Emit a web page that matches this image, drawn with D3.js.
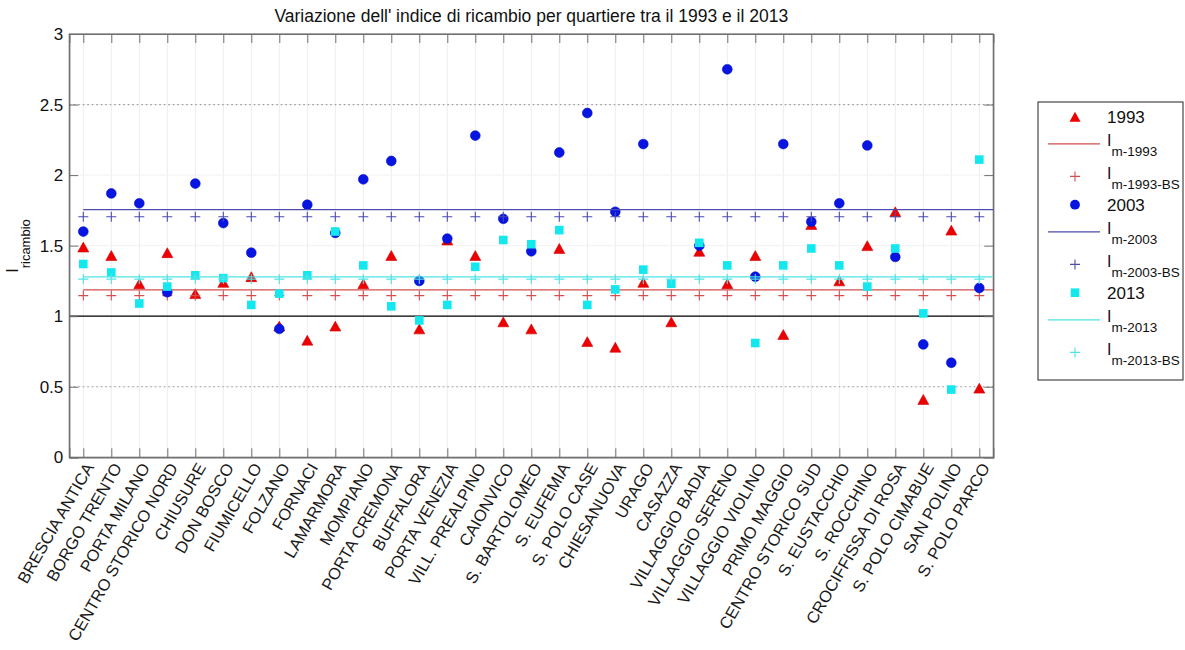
<!DOCTYPE html>
<html>
<head>
<meta charset="utf-8">
<script src="https://cdn.jsdelivr.net/npm/d3@7"></script>
<style>
  html, body { margin: 0; padding: 0; background: #fff; }
  svg { display: block; font-family: Arial, "Liberation Sans", sans-serif; }
</style>
</head>
<body>
<svg id="chart" width="1185" height="650"></svg>
<script>
// Quartieri di Brescia
const categories = [
  "BRESCIA ANTICA", "BORGO TRENTO", "PORTA MILANO", "CENTRO STORICO NORD", "CHIUSURE",
  "DON BOSCO", "FIUMICELLO", "FOLZANO", "FORNACI", "LAMARMORA", "MOMPIANO",
  "PORTA CREMONA", "BUFFALORA", "PORTA VENEZIA", "VILL. PREALPINO", "CAIONVICO",
  "S. BARTOLOMEO", "S. EUFEMIA", "S. POLO CASE", "CHIESANUOVA", "URAGO", "CASAZZA",
  "VILLAGGIO BADIA", "VILLAGGIO SERENO", "VILLAGGIO VIOLINO", "PRIMO MAGGIO",
  "CENTRO STORICO SUD", "S. EUSTACCHIO", "S. ROCCHINO", "CROCIFFISSA DI ROSA",
  "S. POLO CIMABUE", "SAN POLINO", "S. POLO PARCO"
];

// Indice di ricambio per anno (null = dato mancante)
const values1993 = [1.49, 1.43, 1.23, 1.45, 1.16, 1.24, 1.28, 0.93, 0.83, 0.93, 1.23,
  1.43, 0.91, 1.54, 1.43, 0.96, 0.91, 1.48, 0.82, 0.78, 1.24, 0.96,
  1.46, 1.23, 1.43, 0.87, 1.65, 1.25, 1.50, 1.74, 0.41, 1.61, 0.49];
const values2003 = [1.60, 1.87, 1.80, 1.17, 1.94, 1.66, 1.45, 0.91, 1.79, 1.59, 1.97,
  2.10, 1.25, 1.55, 2.28, 1.69, 1.46, 2.16, 2.44, 1.74, 2.22, null,
  1.50, 2.75, 1.28, 2.22, 1.67, 1.80, 2.21, 1.42, 0.80, 0.67, 1.20];
const values2013 = [1.37, 1.31, 1.09, 1.21, 1.29, 1.27, 1.08, 1.16, 1.29, 1.60, 1.36,
  1.07, 0.97, 1.08, 1.35, 1.54, 1.51, 1.61, 1.08, 1.19, 1.33, 1.23,
  1.52, 1.36, 0.81, 1.36, 1.48, 1.36, 1.21, 1.48, 1.02, 0.48, 2.11];

// Medie dell'indice (I_m) e medie bootstrap (I_m-BS)
const meanValues = [1.186, 1.755, 1.278];
const bsValues = [1.146, 1.705, 1.263];
const years = ["1993", "2003", "2013"];

const yTicks = [0, 0.5, 1, 1.5, 2, 2.5, 3];
const refLines = [0.5, 2.5];
const titleText = "Variazione dell' indice di ricambio per quartiere tra il 1993 e il 2013";

// ---- layout ----
const plot = { left: 69.3, right: 993.3, top: 34, bottom: 457.3 };
const svg = d3.select("#chart");

const x = d3.scaleLinear().domain([0.5, categories.length + 0.5]).range([plot.left, plot.right]);
const y = d3.scaleLinear().domain([0, 3]).range([plot.bottom, plot.top]);
const idx = d3.range(1, categories.length + 1);

const colors = {
  marker: ["#ee0000", "#0814e0", "#14e8ef"],
  mean:   ["#d24f4f", "#4b4bb0", "#4fe3e3"]
};

// faint grid
const grid = svg.append("g");
grid.selectAll("line.vx").data(idx).join("line")
  .attr("x1", d => x(d)).attr("x2", d => x(d))
  .attr("y1", plot.top).attr("y2", plot.bottom)
  .attr("stroke", "#ededed").attr("stroke-width", 1);
grid.selectAll("line.hy").data(yTicks.slice(1, -1)).join("line")
  .attr("x1", plot.left).attr("x2", plot.right)
  .attr("y1", d => y(d)).attr("y2", d => y(d))
  .attr("stroke", "#f3f3f3").attr("stroke-width", 1);

// dotted reference lines
svg.append("g").selectAll("line").data(refLines).join("line")
  .attr("x1", plot.left).attr("x2", plot.right)
  .attr("y1", d => y(d)).attr("y2", d => y(d))
  .attr("stroke", "#9a9a9a").attr("stroke-width", 1.2)
  .attr("stroke-dasharray", "1.5,3");

// unit line
svg.append("line")
  .attr("x1", plot.left).attr("x2", plot.right)
  .attr("y1", y(1)).attr("y2", y(1))
  .attr("stroke", "#000").attr("stroke-width", 1.2);

// axes (box with inward ticks)
const tickLen = 9;
const axisColor = "#6e6e6e";
const xAxisB = d3.axisBottom(x).tickValues(idx).tickSize(-tickLen).tickFormat("");
const xAxisT = d3.axisTop(x).tickValues(idx).tickSize(-tickLen).tickFormat("");
const yAxisL = d3.axisLeft(y).tickValues(yTicks).tickSize(-tickLen).tickFormat(d3.format("~g")).tickPadding(6);
const yAxisR = d3.axisRight(y).tickValues(yTicks.slice(1, -1)).tickSize(-tickLen).tickFormat("");

function styleAxis(g) {
  g.select(".domain").attr("stroke", axisColor).attr("stroke-width", 1.2);
  g.selectAll(".tick line").attr("stroke", axisColor);
}
svg.append("g").attr("transform", `translate(0,${plot.bottom})`).call(xAxisB).call(styleAxis);
svg.append("g").attr("transform", `translate(0,${plot.top})`).call(xAxisT).call(styleAxis);
const gy = svg.append("g").attr("transform", `translate(${plot.left},0)`).call(yAxisL).call(styleAxis);
gy.selectAll(".tick text").attr("font-size", 17).attr("fill", "#111")
  .attr("font-family", "Arial, 'Liberation Sans', sans-serif");
svg.append("g").attr("transform", `translate(${plot.right},0)`).call(yAxisR).call(styleAxis);
// axes box
svg.append("rect")
  .attr("x", plot.left).attr("y", plot.top)
  .attr("width", plot.right - plot.left).attr("height", plot.bottom - plot.top)
  .attr("fill", "none").attr("stroke", axisColor).attr("stroke-width", 1.2);

// rotated category labels
svg.append("g").selectAll("text").data(categories).join("text")
  .attr("transform", (d, i) => `translate(${x(i + 1) + 6},${plot.bottom + 7}) rotate(-60)`)
  .attr("text-anchor", "end")
  .attr("dominant-baseline", "central")
  .attr("font-size", 16.5).attr("fill", "#1a1a1a")
  .text(d => d);

// title
svg.append("text")
  .attr("x", (plot.left + plot.right) / 2).attr("y", 22)
  .attr("text-anchor", "middle").attr("font-size", 17.5).attr("fill", "#111")
  .text(titleText);

// y label: I_ricambio
const yl = svg.append("text")
  .attr("transform", `translate(18,246) rotate(-90)`)
  .attr("text-anchor", "middle").attr("fill", "#111");
yl.append("tspan").attr("font-size", 16).text("I");
yl.append("tspan").attr("font-size", 13).attr("dy", 12).text("ricambio");

// marker shapes
function trianglePath(s) { const h = s * 0.9; return `M0,${-h / 2}L${s / 2},${h / 2}L${-s / 2},${h / 2}Z`; }
function plusPath(s) { return `M${-s / 2},0H${s / 2}M0,${-s / 2}V${s / 2}`; }

function drawSeries(g, vals, k) {
  const pts = vals.map((v, i) => ({ i: i + 1, v })).filter(d => d.v != null);
  if (k === 0) {
    g.selectAll("path.m").data(pts).join("path")
      .attr("d", trianglePath(11))
      .attr("transform", d => `translate(${x(d.i)},${y(d.v)})`)
      .attr("fill", colors.marker[k]).attr("stroke", "#d00000").attr("stroke-width", 0.6);
  } else if (k === 1) {
    g.selectAll("circle").data(pts).join("circle")
      .attr("cx", d => x(d.i)).attr("cy", d => y(d.v)).attr("r", 4.9)
      .attr("fill", colors.marker[k]).attr("stroke", "#0010cc").attr("stroke-width", 0.6);
  } else {
    g.selectAll("rect").data(pts).join("rect")
      .attr("x", d => x(d.i) - 4.3).attr("y", d => y(d.v) - 4.3)
      .attr("width", 8.6).attr("height", 8.6)
      .attr("fill", colors.marker[k]);
  }
}

years.forEach((yr, k) => {
  const g = svg.append("g");
  drawSeries(g, [values1993, values2003, values2013][k], k);
  // mean line
  g.append("line")
    .attr("x1", x(1)).attr("x2", plot.right)
    .attr("y1", y(meanValues[k])).attr("y2", y(meanValues[k]))
    .attr("stroke", colors.mean[k]).attr("stroke-width", 1.3);
  // bootstrap mean markers
  g.selectAll("path.p").data(idx).join("path")
    .attr("d", plusPath(10))
    .attr("transform", d => `translate(${x(d)},${y(bsValues[k])})`)
    .attr("stroke", colors.mean[k]).attr("stroke-width", 1.1).attr("fill", "none");
});

// legend
const leg = { x0: 1038, x1: 1183, y0: 102, y1: 380 };
svg.append("rect")
  .attr("x", leg.x0).attr("y", leg.y0)
  .attr("width", leg.x1 - leg.x0).attr("height", leg.y1 - leg.y0)
  .attr("fill", "#fff").attr("stroke", "#222").attr("stroke-width", 1);

const entries = [];
years.forEach((yr, k) => {
  entries.push({ type: "marker", k, label: yr });
  entries.push({ type: "line", k, sub: `m-${yr}` });
  entries.push({ type: "plus", k, sub: `m-${yr}-BS` });
});
// row spacing depends on whether the row carries a subscript
let ly = 116.7;
entries.forEach((e, j) => {
  if (j > 0) {
    const prev = entries[j - 1].type === "marker" ? "plain" : "sub";
    const cur = e.type === "marker" ? "plain" : "sub";
    ly += prev === "plain" ? 27.2 : (cur === "sub" ? 32.5 : 28.3);
  }
  e.y = ly;
});

const symX = 1075, txtX = 1107;
entries.forEach(e => {
  const g = svg.append("g");
  if (e.type === "marker") {
    if (e.k === 0) g.append("path").attr("d", trianglePath(11)).attr("transform", `translate(${symX},${e.y})`).attr("fill", colors.marker[0]);
    if (e.k === 1) g.append("circle").attr("cx", symX).attr("cy", e.y).attr("r", 4.9).attr("fill", colors.marker[1]);
    if (e.k === 2) g.append("rect").attr("x", symX - 4.3).attr("y", e.y - 4.3).attr("width", 8.6).attr("height", 8.6).attr("fill", colors.marker[2]);
    g.append("text").attr("x", txtX).attr("y", e.y + 6).attr("font-size", 17).attr("fill", "#111").text(e.label);
  } else {
    if (e.type === "line") {
      g.append("line").attr("x1", 1048).attr("x2", 1100).attr("y1", e.y).attr("y2", e.y)
        .attr("stroke", colors.mean[e.k]).attr("stroke-width", 1.3);
    } else {
      g.append("path").attr("d", plusPath(10)).attr("transform", `translate(${symX},${e.y})`)
        .attr("stroke", colors.mean[e.k]).attr("stroke-width", 1.1).attr("fill", "none");
    }
    const t = g.append("text").attr("x", txtX).attr("y", e.y + 2.5).attr("fill", "#111");
    t.append("tspan").attr("font-size", 16).text("I");
    t.append("tspan").attr("font-size", 13.5).attr("dy", 10).text(e.sub);
  }
});
</script>
</body>
</html>
